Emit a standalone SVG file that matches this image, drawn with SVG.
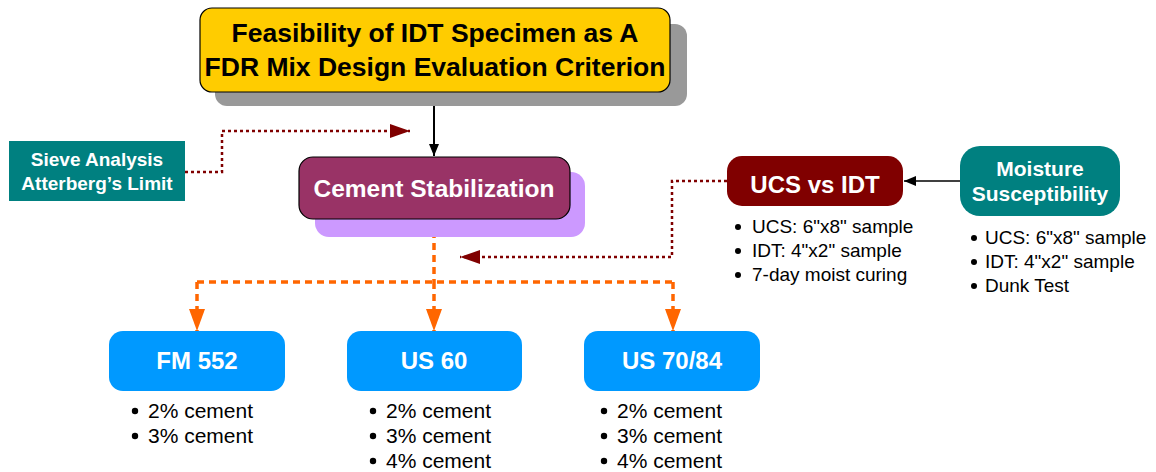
<svg xmlns="http://www.w3.org/2000/svg" width="1156" height="472" viewBox="0 0 1156 472">
<defs>
<style>
.t{font-family:"Liberation Sans",Arial,sans-serif;font-weight:bold;fill:#fff;text-anchor:middle}
.b{font-family:"Liberation Sans",Arial,sans-serif;fill:#000}
.dr{fill:none;stroke:#800000;stroke-width:2.5;stroke-dasharray:3 3}
.or{fill:none;stroke:#FF6600;stroke-width:3.5;stroke-dasharray:7 5}
</style>
<marker id="ab" markerWidth="12" markerHeight="10" refX="12" refY="5" orient="auto" markerUnits="userSpaceOnUse"><path d="M0,0 L12,5 L0,10 Z" fill="#000"/></marker>
<marker id="ar" markerWidth="20" markerHeight="14" refX="20" refY="7" orient="auto" markerUnits="userSpaceOnUse"><path d="M0,0 L20,7 L0,14 Z" fill="#800000"/></marker>
<marker id="ao" markerWidth="22" markerHeight="16" refX="22" refY="8" orient="auto" markerUnits="userSpaceOnUse"><path d="M0,0 L22,8 L0,16 Z" fill="#FF6600"/></marker>
</defs>
<rect width="1156" height="472" fill="#fff"/>
<g id="connectors">
<line x1="434" y1="92" x2="434" y2="156" stroke="#000" stroke-width="2" marker-end="url(#ab)"/>
<polyline class="dr" points="185,172 222,172 222,131 410,131" marker-end="url(#ar)"/>
<polyline class="dr" points="727,181 672,181 672,257 460,257" marker-end="url(#ar)"/>
<line x1="960" y1="181" x2="904" y2="181" stroke="#000" stroke-width="1.5" marker-end="url(#ab)"/>
<polyline class="or" points="434,219 434,282"/>
<polyline class="or" points="197,282 197,331" marker-end="url(#ao)"/>
<polyline class="or" points="434,282 434,331" marker-end="url(#ao)"/>
<polyline class="or" points="673,282 673,331" marker-end="url(#ao)"/>
<line x1="197" y1="282" x2="673" y2="282" stroke="#FF6600" stroke-width="3.5" stroke-dasharray="7 5"/>
</g>
<g id="title">
<rect x="215" y="24" width="472" height="82" rx="12" fill="#999"/>
<rect x="200" y="8" width="470" height="84" rx="12" fill="#FFCC00" stroke="#000" stroke-width="1.2"/>
<text class="t" x="435" y="42" font-size="26.5" style="fill:#000">Feasibility of IDT Specimen as A</text>
<text class="t" x="435" y="76" font-size="26.5" style="fill:#000">FDR Mix Design Evaluation Criterion</text>
</g>
<g id="sieve">
<rect x="9" y="141" width="176" height="60" fill="#008080"/>
<text class="t" x="97" y="166" font-size="19">Sieve Analysis</text>
<text class="t" x="97" y="190" font-size="19">Atterberg’s Limit</text>
</g>
<g id="cement">
<rect x="315" y="172" width="270" height="65" rx="14" fill="#CC99FF"/>
<rect x="299" y="157" width="271" height="62" rx="14" fill="#993366" stroke="#000" stroke-width="1.2"/>
<text class="t" x="434" y="197" font-size="24.5">Cement Stabilization</text>
</g>
<g id="ucs">
<rect x="727" y="156" width="176" height="50" rx="15" fill="#800000"/>
<text class="t" x="815" y="193" font-size="24">UCS vs IDT</text>
<circle cx="738" cy="227" r="3"/><text class="b" x="752" y="233" font-size="19">UCS: 6"x8" sample</text>
<circle cx="738" cy="251" r="3"/><text class="b" x="752" y="257" font-size="19">IDT: 4"x2" sample</text>
<circle cx="738" cy="275" r="3"/><text class="b" x="752" y="281" font-size="19">7-day moist curing</text>
</g>
<g id="moisture">
<rect x="960" y="146" width="160" height="70" rx="20" fill="#008080"/>
<text class="t" x="1040" y="176" font-size="21">Moisture</text>
<text class="t" x="1040" y="201" font-size="21">Susceptibility</text>
<circle cx="974" cy="238" r="3"/><text class="b" x="985" y="244" font-size="19">UCS: 6"x8" sample</text>
<circle cx="974" cy="262" r="3"/><text class="b" x="985" y="268" font-size="19">IDT: 4"x2" sample</text>
<circle cx="974" cy="286" r="3"/><text class="b" x="985" y="292" font-size="19">Dunk Test</text>
</g>
<g id="fm552">
<rect x="109" y="331" width="176" height="60" rx="14" fill="#0099FF"/>
<text class="t" x="197" y="369" font-size="24">FM 552</text>
<circle cx="135" cy="411" r="3.2"/><text class="b" x="148" y="418" font-size="21">2% cement</text>
<circle cx="135" cy="436" r="3.2"/><text class="b" x="148" y="443" font-size="21">3% cement</text>
</g>
<g id="us60">
<rect x="347" y="331" width="175" height="60" rx="14" fill="#0099FF"/>
<text class="t" x="434" y="369" font-size="24">US 60</text>
<circle cx="373" cy="411" r="3.2"/><text class="b" x="386" y="418" font-size="21">2% cement</text>
<circle cx="373" cy="436" r="3.2"/><text class="b" x="386" y="443" font-size="21">3% cement</text>
<circle cx="373" cy="461" r="3.2"/><text class="b" x="386" y="468" font-size="21">4% cement</text>
</g>
<g id="us7084">
<rect x="584" y="331" width="176" height="60" rx="14" fill="#0099FF"/>
<text class="t" x="672" y="369" font-size="24">US 70/84</text>
<circle cx="604" cy="411" r="3.2"/><text class="b" x="617" y="418" font-size="21">2% cement</text>
<circle cx="604" cy="436" r="3.2"/><text class="b" x="617" y="443" font-size="21">3% cement</text>
<circle cx="604" cy="461" r="3.2"/><text class="b" x="617" y="468" font-size="21">4% cement</text>
</g>
</svg>
